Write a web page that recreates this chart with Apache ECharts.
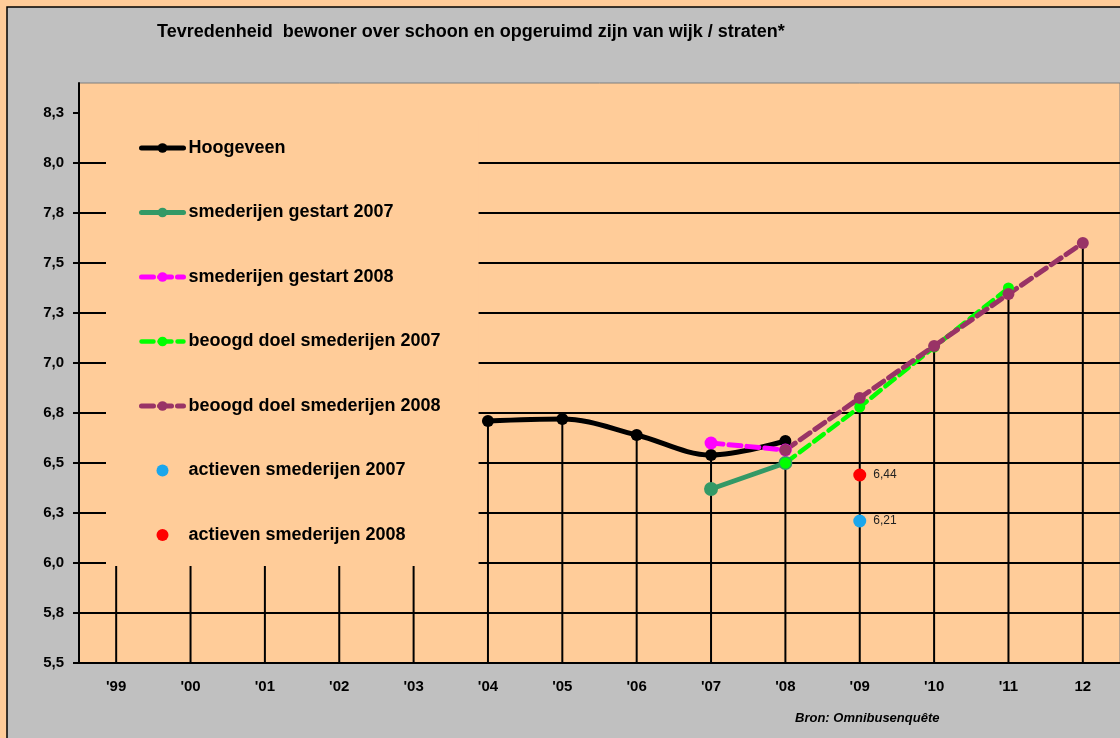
<!DOCTYPE html>
<html>
<head>
<meta charset="utf-8">
<title>Tevredenheid bewoner</title>
<script src="https://cdn.jsdelivr.net/npm/echarts@6.0.0/dist/echarts.min.js"></script>
<style>
  body { margin: 0; background: #FFCC99; }
  #chart { width: 1120px; height: 738px; }
</style>
</head>
<body>
<div id="chart"></div>
<script>
  var categories = ["'99", "'00", "'01", "'02", "'03", "'04", "'05", "'06", "'07", "'08", "'09", "'10", "'11", '12']
  var yTicks = [5.5, 5.75, 6.0, 6.25, 6.5, 6.75, 7.0, 7.25, 7.5, 7.75, 8.0, 8.25]
  var yTickLabels = ['5,5', '5,8', '6,0', '6,3', '6,5', '6,8', '7,0', '7,3', '7,5', '7,8', '8,0', '8,3']

  var hoogeveen = [null, null, null, null, null, 6.71, 6.72, 6.64, 6.54, 6.61, null, null, null, null]
  var gestart2007 = [null, null, null, null, null, null, null, null, 6.37, 6.50, null, null, null, null]
  var gestart2008 = [null, null, null, null, null, null, null, null, 6.60, 6.565, null, null, null, null]
  var doel2007 = [null, null, null, null, null, null, null, null, null, 6.50, 6.78, 7.08, 7.375, null]
  var doel2008 = [null, null, null, null, null, null, null, null, null, 6.565, 6.825, 7.085, 7.345, 7.60]
  var actieven2007 = [null, null, null, null, null, null, null, null, null, null, 6.21, null, null, null]
  var actieven2008 = [null, null, null, null, null, null, null, null, null, null, 6.44, null, null, null]
  // top of the vertical drop lines per year
  var dropTop = [6.0, 6.0, 6.0, 6.0, 6.0, 6.71, 6.72, 6.64, 6.60, 6.61, 6.825, 7.085, 7.375, 7.60]

  var font = 'Liberation Sans, Arial, sans-serif'
  var chart = echarts.init(document.getElementById('chart'))

  function lineSeries (name, data, color, width, dashed, size, smooth) {
    return {
      name: name,
      type: 'line',
      data: data,
      smooth: smooth ? 0.35 : false,
      symbol: 'circle',
      symbolSize: size,
      z: 3,
      itemStyle: { color: color },
      lineStyle: { color: color, width: width, type: dashed ? [12, 6] : 'solid', cap: 'round' }
    }
  }

  function dotSeries (name, data, color) {
    return {
      name: name,
      type: 'scatter',
      data: data,
      symbol: 'circle',
      symbolSize: 13,
      z: 4,
      itemStyle: { color: color, opacity: 1 },
      label: {
        show: true,
        position: 'right',
        distance: 7,
        fontFamily: font,
        fontSize: 12,
        color: '#222',
        formatter: function (p) {
          return String(p.value).replace('.', ',')
        }
      }
    }
  }

  chart.setOption({
    backgroundColor: '#FFCC99',
    animation: false,
    graphic: [
      {
        type: 'rect',
        z: -10,
        shape: { x: 7, y: 7, width: 1130, height: 750 },
        style: { fill: '#C0C0C0', stroke: '#000', lineWidth: 1.5 }
      }
    ],
    title: [
      {
        text: 'Tevredenheid  bewoner over schoon en opgeruimd zijn van wijk / straten*',
        left: 152,
        top: 18,
        textStyle: { fontFamily: font, fontSize: 18, fontWeight: 'bold', color: '#000' }
      },
      {
        text: 'Bron: Omnibusenquête',
        left: 790,
        top: 707,
        textStyle: { fontFamily: font, fontSize: 13, fontWeight: 'bold', fontStyle: 'italic', color: '#000' }
      }
    ],
    legend: {
      orient: 'vertical',
      left: 106,
      top: 120,
      padding: [19, 38, 22, 33],
      backgroundColor: '#FFCC99',
      itemWidth: 42,
      itemHeight: 12,
      itemGap: 46.5,
      selectedMode: false,
      lineStyle: { width: 'inherit' },
      textStyle: { fontFamily: font, fontSize: 18, fontWeight: 'bold', color: '#000', lineHeight: 18 },
      data: ['Hoogeveen', 'smederijen gestart 2007', 'smederijen gestart 2008', 'beoogd doel smederijen 2007',
        'beoogd doel smederijen 2008', 'actieven smederijen 2007', 'actieven smederijen 2008']
    },
    grid: {
      left: 79,
      right: 0,
      top: 83,
      bottom: 75,
      show: true,
      backgroundColor: '#FFCC99',
      borderColor: '#7F7F7F',
      borderWidth: 1
    },
    xAxis: {
      type: 'category',
      data: categories,
      boundaryGap: true,
      axisLine: { lineStyle: { color: '#000', width: 2 } },
      axisTick: { show: false },
      axisLabel: { fontFamily: font, fontSize: 15, fontWeight: 'bold', color: '#000', margin: 16 }
    },
    yAxis: {
      type: 'value',
      min: 5.5,
      max: 8.4,
      interval: 0.25,
      axisLine: { show: true, lineStyle: { color: '#000', width: 2 } },
      axisTick: { show: true, length: 6, customValues: yTicks, lineStyle: { color: '#000', width: 2 } },
      axisLabel: {
        customValues: yTicks,
        fontFamily: font,
        fontSize: 15,
        fontWeight: 'bold',
        color: '#000',
        margin: 15,
        formatter: function (v) {
          var i = yTicks.indexOf(v)
          return i >= 0 ? yTickLabels[i] : ''
        }
      },
      splitLine: { show: true, showMaxLine: false, lineStyle: { color: '#000', width: 2 } }
    },
    series: [
      {
        name: 'drop',
        type: 'bar',
        data: dropTop,
        barWidth: 2,
        z: 1,
        silent: true,
        itemStyle: { color: '#000' }
      },
      lineSeries('Hoogeveen', hoogeveen, '#000000', 5, false, 12, true),
      lineSeries('smederijen gestart 2007', gestart2007, '#339966', 5, false, 14, false),
      lineSeries('smederijen gestart 2008', gestart2008, '#FF00FF', 5, true, 13, false),
      lineSeries('beoogd doel smederijen 2007', doel2007, '#00FF00', 4.5, true, 11, false),
      lineSeries('beoogd doel smederijen 2008', doel2008, '#993366', 5, true, 12, false),
      dotSeries('actieven smederijen 2007', actieven2007, '#1AA6EC'),
      dotSeries('actieven smederijen 2008', actieven2008, '#FF0000')
    ]
  })
</script>
</body>
</html>
